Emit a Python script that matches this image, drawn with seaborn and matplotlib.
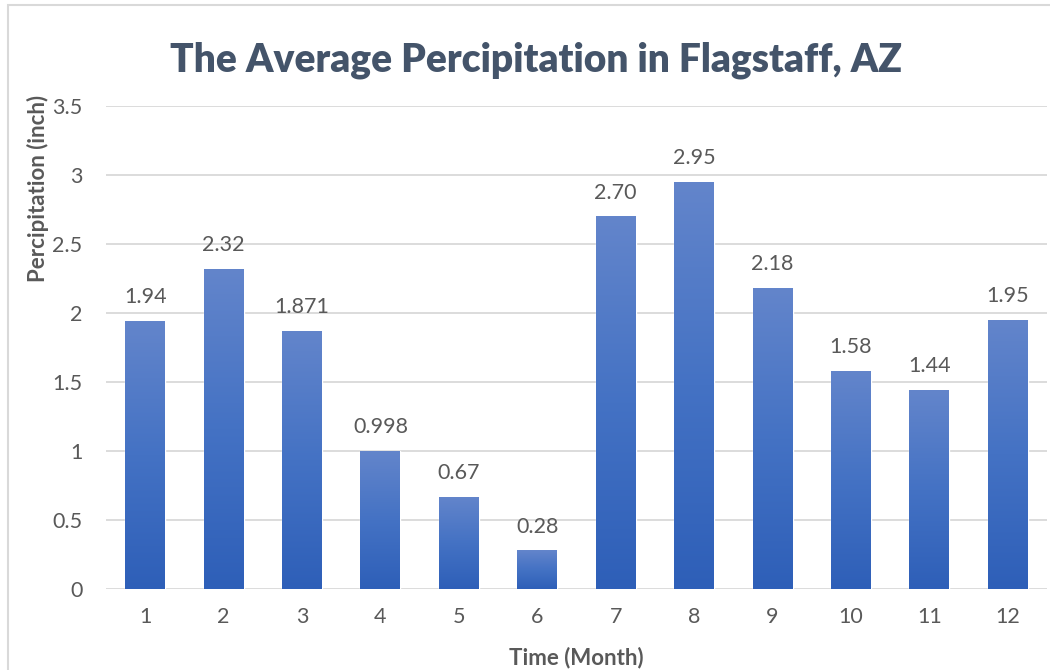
import numpy as np
import pandas as pd
import matplotlib
matplotlib.use("Agg")
import matplotlib.pyplot as plt
import seaborn as sns
from matplotlib.colors import LinearSegmentedColormap
from matplotlib.patches import Rectangle

# Chart data
months = ["1", "2", "3", "4", "5", "6", "7", "8", "9", "10", "11", "12"]
precip = [1.94, 2.32, 1.871, 0.998, 0.67, 0.28, 2.70, 2.95, 2.18, 1.58, 1.44, 1.95]
value_labels = ["1.94", "2.32", "1.871", "0.998", "0.67", "0.28", "2.70", "2.95", "2.18", "1.58", "1.44", "1.95"]
y_ticks = [0, 0.5, 1, 1.5, 2, 2.5, 3, 3.5]
y_tick_labels = ["0", "0.5", "1", "1.5", "2", "2.5", "3", "3.5"]

sns.set_style("white")
plt.rcParams["font.family"] = ["Lato", "DejaVu Sans"]

text_col = "#595959"
title_col = "#44546A"
grid_col = "#D9D9D9"

df = pd.DataFrame({"Month": months, "Precip": precip})

fig = plt.figure(figsize=(10.5, 6.7), dpi=100)
ax = fig.add_axes([106 / 1050, 1 - 589 / 670, (1047 - 106) / 1050, (589 - 106) / 670])

sns.barplot(data=df, x="Month", y="Precip", color="#4472C4", width=0.51, ax=ax, zorder=2)

# vertical gradient fill on each bar, clipped to the bar
grad = LinearSegmentedColormap.from_list("bar", ["#2E5FB8", "#4472C4", "#6385CB"])
for patch in ax.patches:
    x0, y0 = patch.get_x(), patch.get_y()
    w, h = patch.get_width(), patch.get_height()
    img = ax.imshow(np.linspace(0, 1, 256).reshape(-1, 1), cmap=grad, aspect="auto",
                    extent=[x0, x0 + w, y0, y0 + h], origin="lower", zorder=3)
    img.set_clip_path(patch)

ax.set_xlim(-0.5, len(months) - 0.5)
ax.set_ylim(0, 3.5)
ax.set_yticks(y_ticks)
ax.set_yticklabels(y_tick_labels)
ax.yaxis.grid(True, color=grid_col, linewidth=1.3, zorder=0)
ax.set_axisbelow(True)
for s in ax.spines.values():
    s.set_visible(False)
ax.tick_params(axis="both", length=0, labelsize=15.5, colors=text_col, pad=13)
ax.tick_params(axis="y", pad=17)

for i, (v, t) in enumerate(zip(precip, value_labels)):
    ax.text(i, v + 0.1, t, ha="center", va="bottom", fontsize=15.5, color=text_col)

ax.set_xlabel("Time (Month)", fontsize=16, fontweight="bold", color=text_col, labelpad=14)
ax.set_ylabel("Percipitation (inch)", fontsize=16, fontweight="bold", color=text_col)
ax.yaxis.set_label_coords(-57 / 941, 0.83)

fig.text(0.51, 1 - 60 / 670, "The Average Percipitation in Flagstaff, AZ", ha="center", va="center",
         fontsize=28, fontweight="heavy", color=title_col)

# chart border
fig.patches.append(Rectangle((8 / 1050, -0.01), 1.1, 1 - 5 / 670 + 0.01, transform=fig.transFigure,
                             fill=False, edgecolor=grid_col, linewidth=1.5))

fig.savefig("out.png", dpi=100)
